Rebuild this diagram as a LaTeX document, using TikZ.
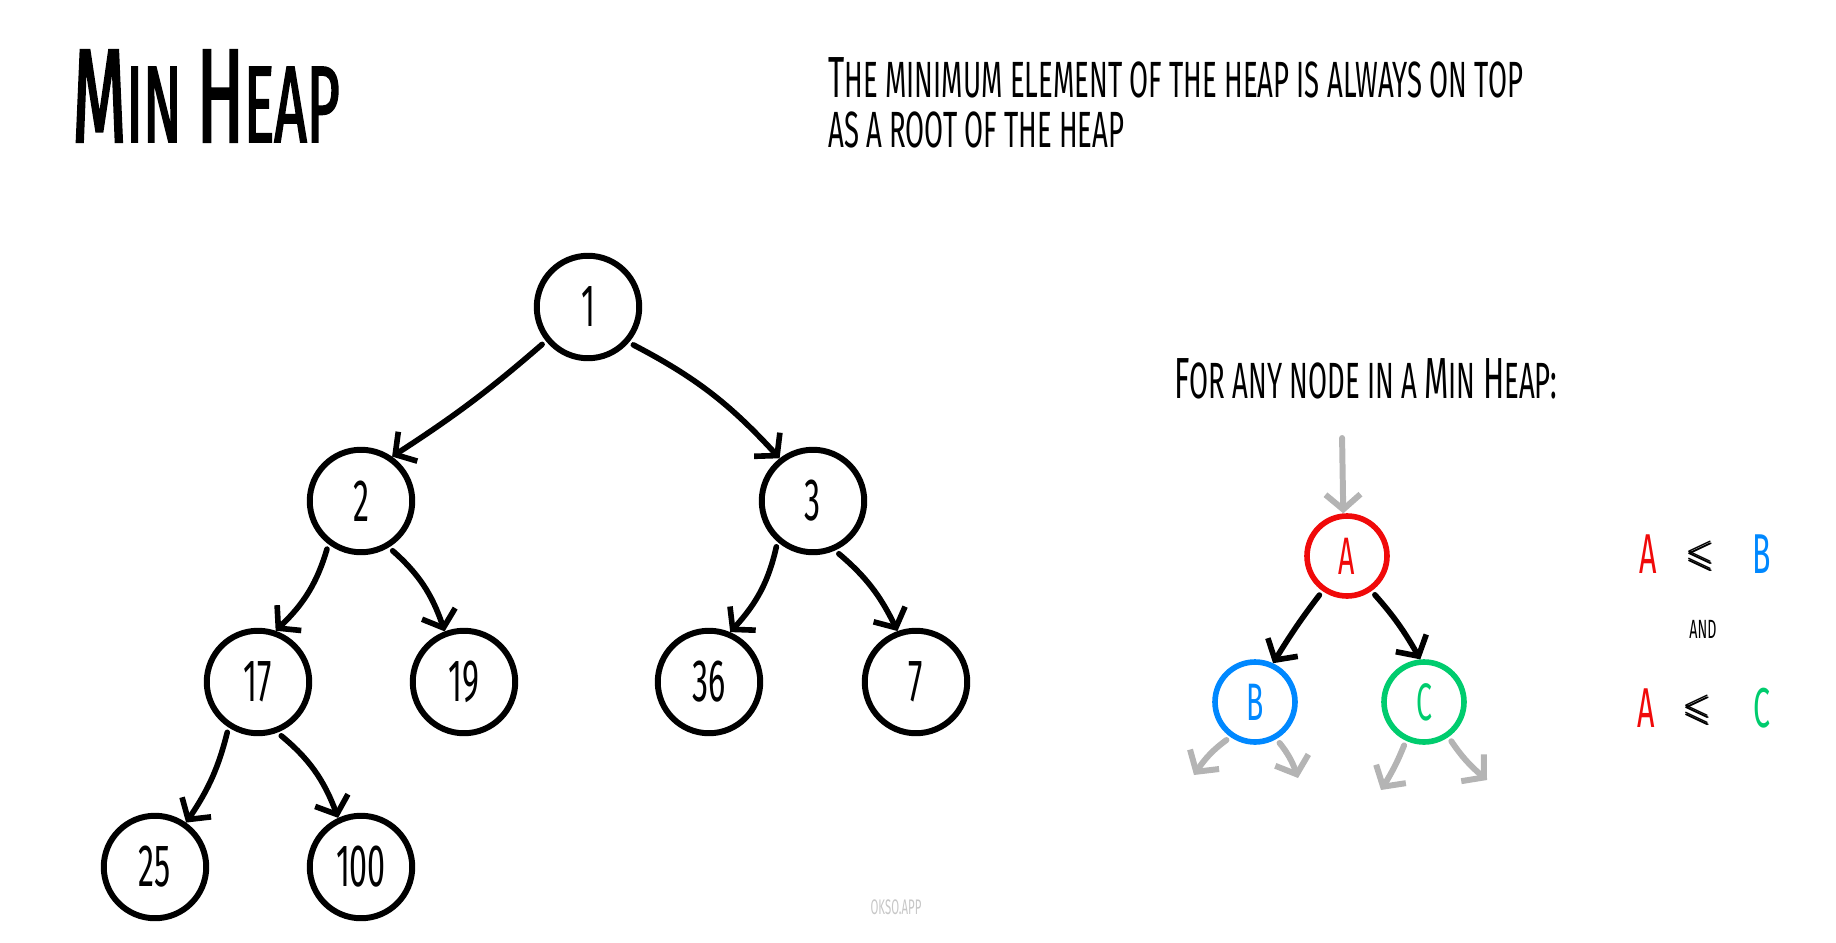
\documentclass[tikz,border=0pt]{standalone}
\usepackage{fontspec}
\usepackage{amsmath}
\usepackage{amssymb}
\usetikzlibrary{arrows.meta}
\newfontfamily\handfont[FakeStretch=0.54]{Fira Sans}
\newfontfamily\titlefont[FakeStretch=0.52,FakeBold=1.5]{Fira Sans}
\definecolor{heapred}{RGB}{240,10,10}
\definecolor{heapblue}{RGB}{0,136,255}
\definecolor{heapgreen}{RGB}{0,204,110}
\definecolor{heapgray}{RGB}{180,180,180}
\newcommand{\initcap}[2][33]{{\fontsize{#1}{#1}\selectfont #2}}
\tikzstyle{arrow} = [line width=3.2pt,->,>={Straight Barb[length=3mm,width=7mm]},line cap=round,line join=round,shorten <=1mm]
\tikzstyle{ghost} = [arrow,draw=heapgray,line width=3.4pt]

\begin{document}
\begin{tikzpicture}
        [
            x=0.02cm,y=-0.02cm,
            heapnode/.style={circle,draw=black,line width=3.4pt,minimum size=2.05cm,inner sep=0pt,font=\handfont\fontsize{34}{34}\selectfont},
            keynode/.style={circle,line width=3.2pt,minimum size=1.6cm,inner sep=0pt,font=\handfont\fontsize{30}{30}\selectfont},
            caption/.style={anchor=base west,inner sep=0pt,font=\handfont\fontsize{29}{29}\selectfont},
            relation/.style={inner sep=0pt,anchor=base,font=\handfont\fontsize{32}{32}\selectfont},
        ]
    \useasboundingbox (0,0) rectangle (1836,943);

    % titles
    \node[caption,font=\titlefont\fontsize{62}{62}\selectfont] (title) at (72,142) {\initcap[76]{M}IN \initcap[76]{H}EAP};
    \node[caption] (rule1) at (828,97) {\initcap{T}HE MINIMUM ELEMENT OF THE HEAP IS ALWAYS ON TOP};
    \node[caption] (rule2) at (828,147) {AS A ROOT OF THE HEAP};
    \node[caption] (anynode) at (1174,398) {\initcap{F}OR ANY NODE IN A \initcap{M}IN \initcap{H}EAP:};
    \node[inner sep=0pt,text=black!22,font=\handfont\fontsize{12}{12}\selectfont] (okso) at (896,907) {OKSO.APP};

    % the heap
    \node[heapnode] (n1) at (588,307) {1};
    \node[heapnode] (n2) at (361,501) {2};
    \node[heapnode] (n3) at (813,501) {3};
    \node[heapnode] (n17) at (258,682) {17};
    \node[heapnode] (n19) at (464,682) {19};
    \node[heapnode] (n36) at (709,682) {36};
    \node[heapnode] (n7) at (916,682) {7};
    \node[heapnode] (n25) at (155,867) {25};
    \node[heapnode] (n100) at (361,867) {100};

    \draw[arrow] (n1.219) to[bend left=4] (n2.55);
    \draw[arrow] (n1.319) to[bend left=10] (n3.128);
    \draw[arrow] (n2.233) to[bend left=15] (n17.71);
    \draw[arrow] (n2.301) to[bend left=15] (n19.111);
    \draw[arrow] (n3.229) to[bend left=15] (n36.67);
    \draw[arrow] (n3.294) to[bend left=12] (n7.110);
    \draw[arrow] (n17.237) to[bend left=10] (n25.55);
    \draw[arrow] (n17.291) to[bend left=15] (n100.115);

    % any node A with its children B and C
    \node[keynode,draw=heapred,text=heapred] (ka) at (1347,556) {A};
    \node[keynode,draw=heapblue,text=heapblue] (kb) at (1255,702) {B};
    \node[keynode,draw=heapgreen,text=heapgreen] (kc) at (1424,702) {C};
    \coordinate (parent) at (1342,433);
    \coordinate (bl) at (1194,775);
    \coordinate (br) at (1298,778);
    \coordinate (cl) at (1381,790);
    \coordinate (cr) at (1487,780);

    \draw[ghost] (parent) -- (ka.95);
    \draw[arrow] (ka.235) to[bend right=3] (kb.65);
    \draw[arrow] (ka.305) to[bend left=6] (kc.95);
    \draw[ghost] (kb.235) to[bend right=10] (bl);
    \draw[ghost] (kb.300) to[bend left=10] (br);
    \draw[ghost] (kc.245) to[bend left=5] (cl);
    \draw[ghost] (kc.305) to[bend right=8] (cr);

    % A <= B and A <= C
    \node[relation,text=heapred] (ra1) at (1648,573) {A};
    \node[relation,font=\fontsize{21}{21}\selectfont] (le1) at (1701,566) {$\pmb{\leqslant}$};
    \node[relation,text=heapblue] (rb) at (1762,573) {B};
    \node[relation,font=\handfont\fontsize{15}{15}\selectfont] (and) at (1703,638) {AND};
    \node[relation,text=heapred] (ra2) at (1646,727) {A};
    \node[relation,font=\fontsize{21}{21}\selectfont] (le2) at (1698,720) {$\pmb{\leqslant}$};
    \node[relation,text=heapgreen] (rc) at (1762,727) {C};
\end{tikzpicture}
\end{document}
